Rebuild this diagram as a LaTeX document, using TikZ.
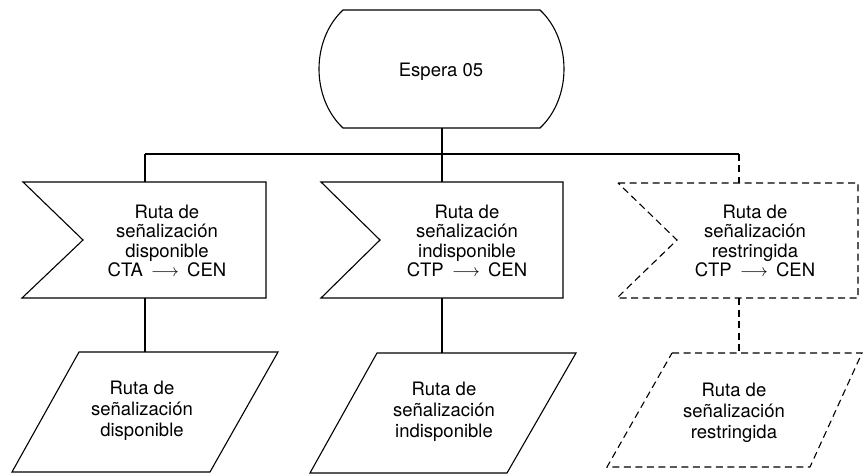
\documentclass[tikz,border=0pt]{standalone}
\usepackage{fontspec}
\setmainfont{TeX Gyre Heros}
\begin{document}
\begin{tikzpicture}[x=1pt,y=-1pt,
  outl/.style={draw=black,line width=1.1pt,line join=miter},
  dsh/.style={outl,dash pattern=on 7pt off 4.5pt},
  conn/.style={draw=black,line width=1.1pt},
  dconn/.style={conn,dash pattern=on 7pt off 4.5pt},
  lblA/.style={align=center,inner sep=0pt,font=\fontsize{18.5}{19.6}\selectfont},
  lblB/.style={align=center,inner sep=0pt,font=\fontsize{18.5}{21}\selectfont}]
\fill[white] (0,0) rectangle (863,476);
\useasboundingbox (0,0) rectangle (863,476);

% terminal
\draw[outl] (343,10) -- (540,10) .. controls (572,40) and (572,98) .. (540,128)
  -- (343,128) .. controls (311,98) and (311,40) .. (343,10) -- cycle;
\node[lblA] (term) at (441,72) {Espera 05};
\coordinate (tb) at (442,128);
\coordinate (j) at (442,154);
\coordinate (jl) at (145,154);
\coordinate (jr) at (739,154);

% signal boxes
\draw[outl] (23,182) -- (266,182) -- (266,298) -- (22,298) -- (83,240) -- cycle;
\draw[outl] (321,182) -- (563,182) -- (563,298) -- (321,298) -- (380,240) -- cycle;
\draw[dsh] (618,183) -- (858,183) -- (858,298) -- (617,298) -- (677,240) -- cycle;
\node[lblA] (s1) at (167,241) {Ruta de\\señalización\\disponible\\CTA \,$\longrightarrow$\, CEN};
\node[lblA] (s2) at (467,241) {Ruta de\\señalización\\indisponible\\CTP \,$\longrightarrow$\, CEN};
\node[lblA] (s3) at (755,241) {Ruta de\\señalización\\restringida\\CTP \,$\longrightarrow$\, CEN};
\coordinate (s1t) at (145,182); \coordinate (s1b) at (145,298);
\coordinate (s2t) at (442,182); \coordinate (s2b) at (442,298);
\coordinate (s3t) at (739,183); \coordinate (s3b) at (739,298);

% parallelograms
\draw[outl] (79,352) -- (278,352) -- (210,472) -- (12,472) -- cycle;
\draw[outl] (377,353) -- (576,353) -- (507,473) -- (310,473) -- cycle;
\draw[dsh] (672,353) -- (862,353) -- (810,467) -- (607,467) -- cycle;
\node[lblB] (p1) at (142,411) {Ruta de\\señalización\\disponible};
\node[lblB] (p2) at (444,412) {Ruta de\\señalización\\indisponible};
\node[lblB] (p3) at (734,413) {Ruta de\\señalización\\restringida};
\coordinate (p1t) at (145,352);
\coordinate (p2t) at (442,353);
\coordinate (p3t) at (739,353);

% connectors
\draw[conn] (tb) -- (j);
\draw[conn] (jl) -- (jr);
\draw[conn] (jl) -- (s1t);
\draw[conn] (j) -- (s2t);
\draw[dconn] (jr) -- (s3t);
\draw[conn] (s1b) -- (p1t);
\draw[conn] (s2b) -- (p2t);
\draw[dconn] (s3b) -- (p3t);
\end{tikzpicture}
\end{document}
